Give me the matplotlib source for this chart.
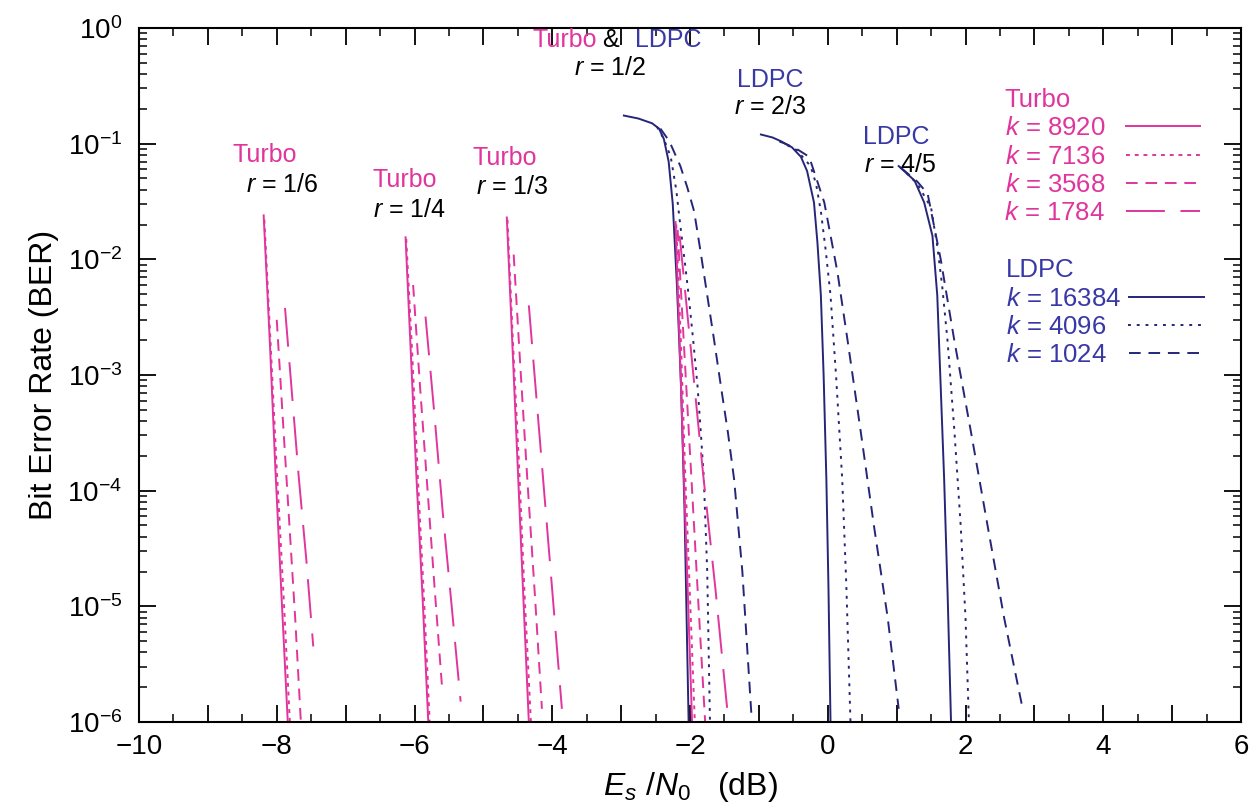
import matplotlib.pyplot as plt
from matplotlib.ticker import MultipleLocator, FuncFormatter, LogLocator, NullFormatter

plt.rcParams['font.family'] = ['Liberation Sans', 'DejaVu Sans']
plt.rcParams['mathtext.fontset'] = 'custom'
plt.rcParams['mathtext.rm'] = 'Liberation Sans'
plt.rcParams['mathtext.it'] = 'Liberation Sans:italic'

PINK = '#e0359c'
NAVY = '#262678'
NAVY_TXT = '#3838a6'

# block lengths, same order inside every rate group
turbo_k = [8920, 7136, 3568, 1784]
ldpc_k = [16384, 4096, 1024]

# ---- Turbo codes (Es/N0 in dB, BER) ----
turbo_r16_esn0 = [[-8.19, -8.10, -8.02, -7.93, -7.84],
                  [-8.18, -8.09, -8.00, -7.90, -7.81],
                  [-8.00, -7.91, -7.82, -7.73, -7.65],
                  [-7.88, -7.78, -7.68, -7.57, -7.47]]
turbo_r16_ber = [[2.4e-2, 1.9e-3, 1.55e-4, 1.2e-5, 1e-6],
                 [2.2e-2, 1.9e-3, 1.55e-4, 1.2e-5, 1e-6],
                 [3.0e-3, 4e-4, 5.5e-5, 7.5e-6, 1e-6],
                 [3.8e-3, 7e-4, 1.3e-4, 2.5e-5, 4.5e-6]]

turbo_r14_esn0 = [[-6.13, -6.05, -5.97, -5.88, -5.80],
                  [-6.12, -6.03, -5.95, -5.86, -5.78],
                  [-6.02, -5.92, -5.81, -5.71, -5.60],
                  [-5.84, -5.71, -5.59, -5.46, -5.33]]
turbo_r14_ber = [[1.55e-2, 1.4e-3, 1.25e-4, 1.1e-5, 1e-6],
                 [1.5e-2, 1.4e-3, 1.25e-4, 1.1e-5, 1e-6],
                 [6e-3, 8e-4, 1e-4, 1.5e-5, 2e-6],
                 [3.2e-3, 4.5e-4, 6.5e-5, 1e-5, 1.5e-6]]

turbo_r13_esn0 = [[-4.66, -4.58, -4.50, -4.42, -4.34],
                  [-4.65, -4.57, -4.48, -4.40, -4.31],
                  [-4.56, -4.46, -4.36, -4.25, -4.15],
                  [-4.34, -4.22, -4.10, -3.98, -3.86]]
turbo_r13_ber = [[2.3e-2, 1.9e-3, 1.55e-4, 1.2e-5, 1e-6],
                 [2.2e-2, 1.9e-3, 1.55e-4, 1.2e-5, 1e-6],
                 [1.1e-2, 1.1e-3, 1.2e-4, 1.2e-5, 1.3e-6],
                 [4e-3, 5.4e-4, 7.3e-5, 9.8e-6, 1.3e-6]]

turbo_r12_esn0 = [[-2.21, -2.15, -2.09, -2.03, -1.97],
                  [-2.20, -2.13, -2.07, -2.00, -1.93],
                  [-2.18, -2.08, -1.98, -1.88, -1.78],
                  [-2.15, -1.98, -1.81, -1.63, -1.46]]
turbo_r12_ber = [[2.1e-2, 1.8e-3, 1.4e-4, 1.2e-5, 1e-6],
                 [2e-2, 1.8e-3, 1.4e-4, 1.2e-5, 1e-6],
                 [1.8e-2, 1.5e-3, 1.3e-4, 1.1e-5, 1e-6],
                 [1.6e-2, 1.5e-3, 1.4e-4, 1.4e-5, 1.3e-6]]

# ---- LDPC codes ----
ldpc_r12_esn0 = [[-2.96, -2.75, -2.55, -2.45, -2.38, -2.31, -2.25, -2.19, -2.13, -2.08, -2.02],
                 [-2.48, -2.38, -2.28, -2.20, -2.14, -2.08, -2.02, -1.95, -1.89, -1.84, -1.80, -1.75, -1.71],
                 [-2.43, -2.30, -2.14, -2.04, -1.94, -1.85, -1.75, -1.65, -1.55, -1.45, -1.36, -1.24, -1.11]]
ldpc_r12_ber = [[0.175, 0.165, 0.15, 0.135, 0.11, 0.07, 0.03, 6e-3, 8e-4, 7e-5, 1e-6],
                [0.14, 0.11, 0.077, 0.04, 0.0195, 0.01, 4.9e-3, 1.9e-3, 7.9e-4, 3e-4, 1.3e-4, 2e-5, 1e-6],
                [0.135, 0.105, 0.064, 0.042, 0.026, 0.012, 4.9e-3, 2e-3, 7.9e-4, 3.2e-4, 1.26e-4, 2e-5, 1.2e-6]]

ldpc_r23_esn0 = [[-0.97, -0.80, -0.68, -0.52, -0.39, -0.30, -0.20, -0.15, -0.10, -0.06, -0.02, 0.01, 0.04],
                 [-0.70, -0.45, -0.25, -0.17, -0.10, -0.03, 0.04, 0.12, 0.21, 0.27, 0.33],
                 [-0.70, -0.45, -0.27, -0.05, 0.14, 0.29, 0.48, 0.67, 0.87, 1.03]]
ldpc_r23_ber = [[0.12, 0.113, 0.105, 0.093, 0.077, 0.058, 0.031, 0.014, 4.9e-3, 1e-3, 1.25e-4, 1.5e-5, 1e-6],
                [0.105, 0.088, 0.064, 0.045, 0.026, 0.012, 4.9e-3, 1e-3, 1.26e-4, 1.5e-5, 1e-6],
                [0.105, 0.09, 0.077, 0.031, 7.8e-3, 1.95e-3, 3.2e-4, 5e-5, 8e-6, 1.3e-6]]

ldpc_r45_esn0 = [[1.03, 1.26, 1.40, 1.52, 1.59, 1.64, 1.69, 1.74, 1.79],
                 [1.05, 1.30, 1.50, 1.59, 1.66, 1.74, 1.84, 1.93, 2.00, 2.05],
                 [1.06, 1.30, 1.45, 1.64, 1.84, 2.08, 2.32, 2.56, 2.83]]
ldpc_r45_ber = [[0.064, 0.048, 0.031, 0.016, 4.9e-3, 7.9e-4, 1.26e-4, 1.3e-5, 1e-6],
                [0.063, 0.045, 0.028, 0.013, 6e-3, 1.95e-3, 3.2e-4, 5e-5, 8e-6, 1e-6],
                [0.062, 0.047, 0.037, 0.01, 1.95e-3, 3.2e-4, 5e-5, 8e-6, 1.3e-6]]

turbo_styles = ['-', (0, (2, 2.5)), (0, (6, 4)), (0, (20, 8))]
ldpc_styles = ['-', (0, (1.5, 3)), (0, (6, 4))]

fig = plt.figure(figsize=(12.58, 8.10), dpi=100)
ax = fig.add_axes([139 / 1258, 1 - 722 / 810, 1102 / 1258, 694 / 810])


def draw_group(xs, ys, styles, color):
    lines = []
    for x, y, ls in zip(xs, ys, styles):
        line, = ax.semilogy(x, y, color=color, ls=ls, lw=1.4)
        lines.append(line)
    return lines


turbo_lines = draw_group(turbo_r16_esn0, turbo_r16_ber, turbo_styles, PINK)
draw_group(turbo_r14_esn0, turbo_r14_ber, turbo_styles, PINK)
draw_group(turbo_r13_esn0, turbo_r13_ber, turbo_styles, PINK)
ldpc_lines = draw_group(ldpc_r12_esn0, ldpc_r12_ber, ldpc_styles, NAVY)
draw_group(turbo_r12_esn0, turbo_r12_ber, turbo_styles, PINK)
draw_group(ldpc_r23_esn0, ldpc_r23_ber, ldpc_styles, NAVY)
draw_group(ldpc_r45_esn0, ldpc_r45_ber, ldpc_styles, NAVY)

ax.set_xlim(-10, 6)
ax.set_ylim(1e-6, 1)

# axes, ticks inward on all four sides
ax.set_xticks(range(-10, 7))
ax.xaxis.set_minor_locator(MultipleLocator(0.5))
ax.xaxis.set_major_formatter(FuncFormatter(
    lambda v, p: ('%d' % round(v)).replace('-', '\u2212') if round(v) % 2 == 0 else ''))
ax.set_yticks([10.0 ** e for e in range(-6, 1)])
ax.yaxis.set_minor_locator(LogLocator(base=10, subs=range(2, 10), numticks=100))
ax.yaxis.set_minor_formatter(NullFormatter())
ax.tick_params(which='both', direction='in', top=True, right=True, labelsize=20)
ax.tick_params(which='major', length=12, width=1.3)
ax.tick_params(which='minor', length=6, width=1.1)
ax.tick_params(axis='x', pad=9)
ax.tick_params(axis='y', pad=12)
for sp in ax.spines.values():
    sp.set_linewidth(1.5)

ax.set_xlabel(r'$E_s\,\,/N_0$   (dB)', fontsize=23, labelpad=7)
ax.set_ylabel('Bit Error Rate (BER)', fontsize=23, labelpad=6)

# curve group labels
rate_text = [(-8.17, 0.080, 'Turbo', -7.92, 0.044, r'$r$ = 1/6'),
             (-6.14, 0.0485, 'Turbo', -6.07, 0.0267, r'$r$ = 1/4'),
             (-4.69, 0.075, 'Turbo', -4.58, 0.042, r'$r$ = 1/3')]
for x1, y1, t1, x2, y2, t2 in rate_text:
    ax.text(x1, y1, t1, color=PINK, fontsize=18, ha='center', va='center')
    ax.text(x2, y2, t2, color='black', fontsize=18, ha='center', va='center')

ax.text(-3.35, 0.787, 'Turbo', color=PINK, fontsize=18, ha='right', va='center')
ax.text(-3.15, 0.787, '&', color='black', fontsize=18, ha='center', va='center')
ax.text(-2.80, 0.787, 'LDPC', color=NAVY_TXT, fontsize=18, ha='left', va='center')
ax.text(-3.16, 0.45, r'$r$ = 1/2', color='black', fontsize=18, ha='center', va='center')

ax.text(-0.84, 0.355, 'LDPC', color=NAVY_TXT, fontsize=18, ha='center', va='center')
ax.text(-0.84, 0.207, r'$r$ = 2/3', color='black', fontsize=18, ha='center', va='center')
ax.text(1.0, 0.114, 'LDPC', color=NAVY_TXT, fontsize=18, ha='center', va='center')
ax.text(1.05, 0.0654, r'$r$ = 4/5', color='black', fontsize=18, ha='center', va='center')

# legends: text left, sample line right
LEG_FS = 18.5
leg1 = ax.legend(turbo_lines, [r'$k$ = %d' % k for k in turbo_k], title='Turbo',
                 loc='upper right', bbox_to_anchor=(0.963, 0.913), frameon=False,
                 markerfirst=False, alignment='left', labelcolor=PINK, fontsize=LEG_FS,
                 title_fontsize=LEG_FS, handlelength=2.9, handletextpad=0.8,
                 labelspacing=0.16, borderpad=0, borderaxespad=0)
leg1.get_title().set_color(PINK)
ax.add_artist(leg1)
leg2 = ax.legend(ldpc_lines, [r'$k$ = %d' % k for k in ldpc_k], title='LDPC',
                 loc='upper right', bbox_to_anchor=(0.966, 0.668), frameon=False,
                 markerfirst=False, alignment='left', labelcolor=NAVY_TXT, fontsize=LEG_FS,
                 title_fontsize=LEG_FS, handlelength=2.9, handletextpad=0.3,
                 labelspacing=0.16, borderpad=0, borderaxespad=0)
leg2.get_title().set_color(NAVY_TXT)
# left-align the LDPC texts, push the shorter rows' lines out by one digit
for col in leg2._legend_handle_box.get_children():
    col.align = 'left'
    for row in col.get_children()[1:]:
        row.sep += 0.556 * LEG_FS

fig.savefig('out.png', dpi=100)
